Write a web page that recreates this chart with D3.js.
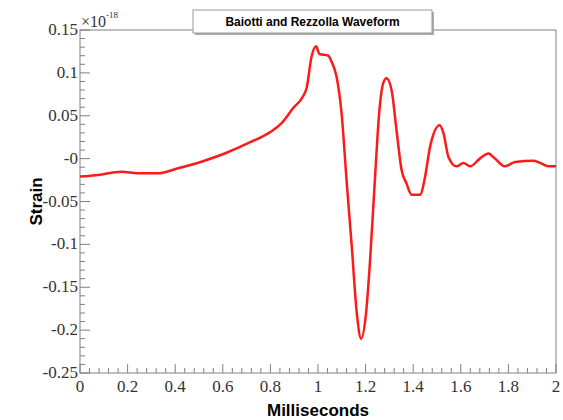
<!doctype html>
<html>
<head>
<meta charset="utf-8">
<script src="https://d3js.org/d3.v7.min.js"></script>
<style>
body { margin: 0; background: #fff; }
</style>
</head>
<body>
<script>
// waveform samples (time in ms, strain in units of 1e-18)
var time = [0, 0.076, 0.174, 0.244, 0.328, 0.412, 0.51, 0.608, 0.72, 0.8, 0.846, 0.896, 0.938, 0.952, 0.973, 0.992,
            1.006, 1.043, 1.057, 1.078, 1.099, 1.12, 1.142, 1.163, 1.181, 1.202, 1.218, 1.239, 1.257, 1.274, 1.288,
            1.309, 1.33, 1.351, 1.372, 1.393, 1.429, 1.45, 1.471, 1.511, 1.527, 1.548, 1.582, 1.611, 1.639, 1.68,
            1.716, 1.744, 1.786, 1.828, 1.905, 1.933, 1.968, 2.0];
var strain = [-0.021, -0.019, -0.0153, -0.017, -0.017, -0.0113, -0.0036, 0.006, 0.0197, 0.031, 0.041, 0.059, 0.073, 0.082, 0.119, 0.131,
              0.122, 0.12, 0.113, 0.0955, 0.053, -0.025, -0.103, -0.18, -0.21, -0.18, -0.122, -0.025, 0.053, 0.088, 0.0936,
              0.08, 0.033, -0.013, -0.029, -0.042, -0.042, -0.021, 0.014, 0.039, 0.03, 0.002, -0.009, -0.005, -0.009, 0.0,
              0.006, 0.0, -0.009, -0.004, -0.0025, -0.005, -0.009, -0.009];
var xTicks = [0, 0.2, 0.4, 0.6, 0.8, 1, 1.2, 1.4, 1.6, 1.8, 2];
var yTicks = [-0.25, -0.2, -0.15, -0.1, -0.05, 0, 0.05, 0.1, 0.15];
var yTickLabels = ["-0.25", "-0.2", "-0.15", "-0.1", "-0.05", "-0", "0.05", "0.1", "0.15"];
var title = "Baiotti and Rezzolla Waveform";

var W = 563, H = 420;
var pLeft = 80, pRight = 556, pTop = 30, pBottom = 373;
var axisColor = "#808080";
var serif = "'Liberation Serif', 'DejaVu Serif', serif";
var sans = "'Liberation Sans', Arial, sans-serif";

var svg = d3.select("body").append("svg").attr("width", W).attr("height", H);

var x = d3.scaleLinear().domain([0, 2]).range([pLeft, pRight]);
var y = d3.scaleLinear().domain([-0.25, 0.15]).range([pBottom, pTop]);

// frame
svg.append("rect")
    .attr("x", pLeft).attr("y", pTop)
    .attr("width", pRight - pLeft).attr("height", pBottom - pTop)
    .attr("fill", "none").attr("stroke", axisColor).attr("stroke-width", 1);

// x axis ticks (inside)
var xMinor = d3.range(0, 2.0001, 0.04);
svg.append("g").selectAll("line").data(xMinor).enter().append("line")
    .attr("x1", function(d) { return x(d); }).attr("x2", function(d) { return x(d); })
    .attr("y1", pBottom)
    .attr("y2", function(d) { return Math.abs(d / 0.2 - Math.round(d / 0.2)) < 1e-6 ? pBottom - 9 : pBottom - 5; })
    .attr("stroke", axisColor);
svg.append("g").selectAll("text").data(xTicks).enter().append("text")
    .attr("x", function(d) { return x(d); })
    .attr("y", 392)
    .attr("text-anchor", "middle")
    .style("font-family", serif).style("font-size", "17px").attr("fill", "#333")
    .text(function(d) { return d3.format("")(d); });

// y axis ticks (inside)
var yMinor = d3.range(-0.25, 0.1501, 0.01);
svg.append("g").selectAll("line").data(yMinor).enter().append("line")
    .attr("y1", function(d) { return y(d); }).attr("y2", function(d) { return y(d); })
    .attr("x1", pLeft)
    .attr("x2", function(d) { return Math.abs(d / 0.05 - Math.round(d / 0.05)) < 1e-6 ? pLeft + 10 : pLeft + 5; })
    .attr("stroke", axisColor);
svg.append("g").selectAll("text").data(yTicks).enter().append("text")
    .attr("x", pLeft - 2)
    .attr("y", function(d) { return y(d) + 5; })
    .attr("text-anchor", "end")
    .style("font-family", serif).style("font-size", "17px").attr("fill", "#333")
    .text(function(d, i) { return yTickLabels[i]; });

// exponent label
var ex = svg.append("text").attr("x", pLeft + 1).attr("y", 27)
    .style("font-family", serif).style("font-size", "16px").attr("fill", "#333");
ex.append("tspan").text("\u00d710");
ex.append("tspan").attr("dy", -9).style("font-size", "9px").text("-18");

// axis titles
svg.append("text")
    .attr("x", (pLeft + pRight) / 2).attr("y", 416)
    .attr("text-anchor", "middle")
    .style("font-family", sans).style("font-weight", "bold").style("font-size", "17px")
    .text("Milliseconds");
svg.append("text")
    .attr("transform", "translate(42," + (pTop + pBottom) / 2 + ") rotate(-90)")
    .attr("text-anchor", "middle")
    .style("font-family", sans).style("font-weight", "bold").style("font-size", "17px")
    .text("Strain");

// waveform
var pts = time.map(function(t, i) { return [t, strain[i]]; });
var line = d3.line()
    .x(function(d) { return x(d[0]); })
    .y(function(d) { return y(d[1]); })
    .curve(d3.curveMonotoneX);
svg.append("path")
    .datum(pts)
    .attr("d", line)
    .attr("fill", "none")
    .attr("stroke", "#ff1a1a")
    .attr("stroke-width", 2.5)
    .attr("stroke-linejoin", "round");

// title box with shadow
svg.append("rect").attr("x", 195).attr("y", 12).attr("width", 239).attr("height", 23).attr("fill", "#aaa");
svg.append("rect").attr("x", 193).attr("y", 10).attr("width", 239).attr("height", 23)
    .attr("fill", "#fff").attr("stroke", "#999").attr("stroke-width", 1);
svg.append("text")
    .attr("x", 312.5).attr("y", 26)
    .attr("text-anchor", "middle")
    .style("font-family", sans).style("font-weight", "bold").style("font-size", "12px")
    .text(title);
</script>
</body>
</html>
